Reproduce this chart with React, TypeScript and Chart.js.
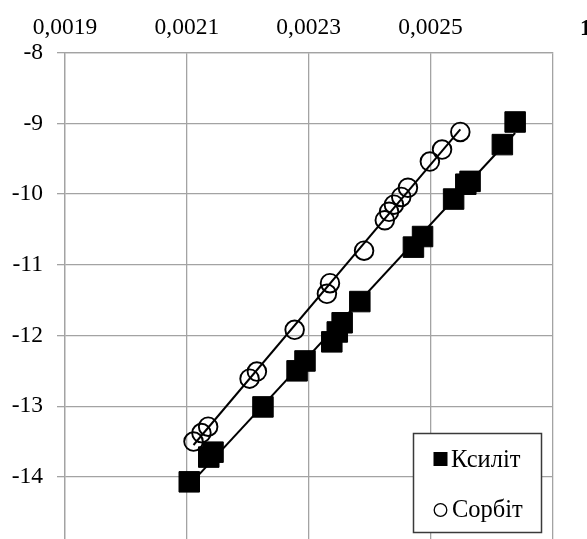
import React, { useEffect, useRef } from 'react';
import { Chart, registerables } from 'chart.js';

Chart.register(...registerables);

// ---- data ----
const seriesNames = ['Ксиліт', 'Сорбіт'];

const xyliteX = [0.002104, 0.002143, 0.002136, 0.002225, 0.002281, 0.002294, 0.002338, 0.002347, 0.002355, 0.002384, 0.002472, 0.002487, 0.002538, 0.002558, 0.002565, 0.002618, 0.002639];
const xyliteY = [-14.07, -13.65, -13.72, -13.01, -12.5, -12.36, -12.09, -11.95, -11.82, -11.52, -10.75, -10.6, -10.07, -9.86, -9.82, -9.3, -8.98];

const sorbitX = [0.002111, 0.002124, 0.002135, 0.002203, 0.002215, 0.002277, 0.00233, 0.002335, 0.002391, 0.002425, 0.002432, 0.00244, 0.002452, 0.002463, 0.002499, 0.002519, 0.002549];
const sorbitY = [-13.5, -13.38, -13.29, -12.61, -12.51, -11.92, -11.41, -11.26, -10.8, -10.37, -10.25, -10.15, -10.04, -9.91, -9.54, -9.37, -9.12];

const xTicks = [0.0019, 0.0021, 0.0023, 0.0025, 0.0027];
const xTickLabels = ['0,0019', '0,0021', '0,0023', '0,0025', ''];
const yTicks = [-8, -9, -10, -11, -12, -13, -14, -15];
const yTickLabels = ['-8', '-9', '-10', '-11', '-12', '-13', '-14', ''];
const cornerText = '1';

// ---- helpers ----
function toPoints(xs: number[], ys: number[]) {
  return xs.map((x, i) => ({ x, y: ys[i] }));
}

function trend(xs: number[], ys: number[]) {
  const n = xs.length;
  const mx = xs.reduce((a, b) => a + b, 0) / n;
  const my = ys.reduce((a, b) => a + b, 0) / n;
  let sxy = 0;
  let sxx = 0;
  for (let i = 0; i < n; i++) {
    sxy += (xs[i] - mx) * (ys[i] - my);
    sxx += (xs[i] - mx) * (xs[i] - mx);
  }
  const b = sxy / sxx;
  const a = my - b * mx;
  const x0 = Math.min(...xs);
  const x1 = Math.max(...xs);
  return [
    { x: x0, y: a + b * x0 },
    { x: x1, y: a + b * x1 },
  ];
}

const FONT = 'Liberation Serif';
const GRID = '#a3a3a3';
const CANVAS_W = 587;
const CANVAS_H = 600;
const TICK_SIZE = 23.5;

const overlayPlugin = {
  id: 'overlay',
  afterDraw(chart: any) {
    const ctx = chart.ctx as CanvasRenderingContext2D;
    ctx.save();
    // legend box
    const bx = 413.5, by = 433.5, bw = 128, bh = 99;
    ctx.fillStyle = '#ffffff';
    ctx.fillRect(bx, by, bw, bh);
    ctx.strokeStyle = '#3a3a3a';
    ctx.lineWidth = 1.5;
    ctx.strokeRect(bx, by, bw, bh);

    ctx.font = `24.5px "${FONT}"`;
    ctx.fillStyle = '#000';
    ctx.textBaseline = 'middle';
    ctx.textAlign = 'left';
    // item 1: filled square
    ctx.fillRect(433.5, 452, 14, 14);
    ctx.fillText(seriesNames[0], 451, 461);
    // item 2: hollow circle
    ctx.beginPath();
    ctx.arc(440.5, 510, 6.3, 0, Math.PI * 2);
    ctx.lineWidth = 1.3;
    ctx.strokeStyle = '#000';
    ctx.stroke();
    ctx.fillText(seriesNames[1], 452, 511);

    // corner text (clipped at right)
    ctx.font = `bold 23px "${FONT}"`;
    ctx.textBaseline = 'alphabetic';
    ctx.fillText(cornerText, 580, 35);
    ctx.restore();
  },
};

export default function App() {
  const ref = useRef<HTMLCanvasElement | null>(null);

  useEffect(() => {
    if (!ref.current) return;
    const chart = new Chart(ref.current, {
      type: 'scatter',
      data: {
        datasets: [
          {
            type: 'line',
            label: seriesNames[0] + ' trend',
            data: trend(xyliteX, xyliteY),
            borderColor: '#000',
            borderWidth: 2,
            pointRadius: 0,
            showLine: true,
            fill: false,
            order: 3,
          },
          {
            type: 'line',
            label: seriesNames[1] + ' trend',
            data: trend(sorbitX, sorbitY),
            borderColor: '#000',
            borderWidth: 2,
            pointRadius: 0,
            showLine: true,
            fill: false,
            order: 3,
          },
          {
            label: seriesNames[0],
            data: toPoints(xyliteX, xyliteY),
            pointStyle: 'rect',
            pointRadius: 14.5,
            backgroundColor: '#000',
            borderColor: '#000',
            borderWidth: 1,
            order: 1,
          },
          {
            label: seriesNames[1],
            data: toPoints(sorbitX, sorbitY),
            pointStyle: 'circle',
            pointRadius: 9.3,
            backgroundColor: 'rgba(0,0,0,0)',
            borderColor: '#000',
            borderWidth: 1.9,
            order: 2,
          },
        ],
      } as any,
      options: {
        animation: false,
        responsive: false,
        devicePixelRatio: 1,
        layout: { padding: { left: 0, right: CANVAS_W - 552.3, top: 0, bottom: CANVAS_H - 547.6 } },
        plugins: { legend: { display: false }, tooltip: { enabled: false } },
        scales: {
          x: {
            type: 'linear',
            position: 'top',
            min: 0.0019,
            max: 0.0027,
            afterBuildTicks: (s: any) => {
              s.ticks = xTicks.map((v) => ({ value: v }));
            },
            afterFit: (s: any) => {
              s.height = 52.7;
            },
            grid: { color: GRID, lineWidth: 1.3, drawTicks: false },
            border: { color: GRID, width: 1.3 },
            ticks: {
              padding: 11,
              color: '#000',
              font: { family: FONT, size: TICK_SIZE },
              maxRotation: 0,
              autoSkip: false,
              callback: (v: any) => {
                const i = xTicks.findIndex((t) => Math.abs(t - Number(v)) < 1e-7);
                return i >= 0 ? xTickLabels[i] : '';
              },
            },
          },
          y: {
            type: 'linear',
            position: 'left',
            min: -15,
            max: -8,
            afterBuildTicks: (s: any) => {
              s.ticks = yTicks.map((v) => ({ value: v }));
            },
            afterFit: (s: any) => {
              s.width = 65;
            },
            grid: { color: GRID, lineWidth: 1.3, tickLength: 8 },
            border: { color: GRID, width: 1.3 },
            ticks: {
              padding: 14,
              color: '#000',
              font: { family: FONT, size: TICK_SIZE },
              autoSkip: false,
              callback: (v: any) => {
                const i = yTicks.findIndex((t) => Math.abs(t - Number(v)) < 1e-7);
                return i >= 0 ? yTickLabels[i] : '';
              },
            },
          },
        },
      } as any,
      plugins: [overlayPlugin],
    });
    return () => chart.destroy();
  }, []);

  return (
    <div
      style={{
        position: 'absolute',
        left: 0,
        top: 0,
        width: CANVAS_W,
        height: 539,
        overflow: 'hidden',
        background: '#fff',
      }}
    >
      <canvas ref={ref} width={CANVAS_W} height={CANVAS_H} style={{ width: CANVAS_W, height: CANVAS_H, display: 'block' }} />
    </div>
  );
}
